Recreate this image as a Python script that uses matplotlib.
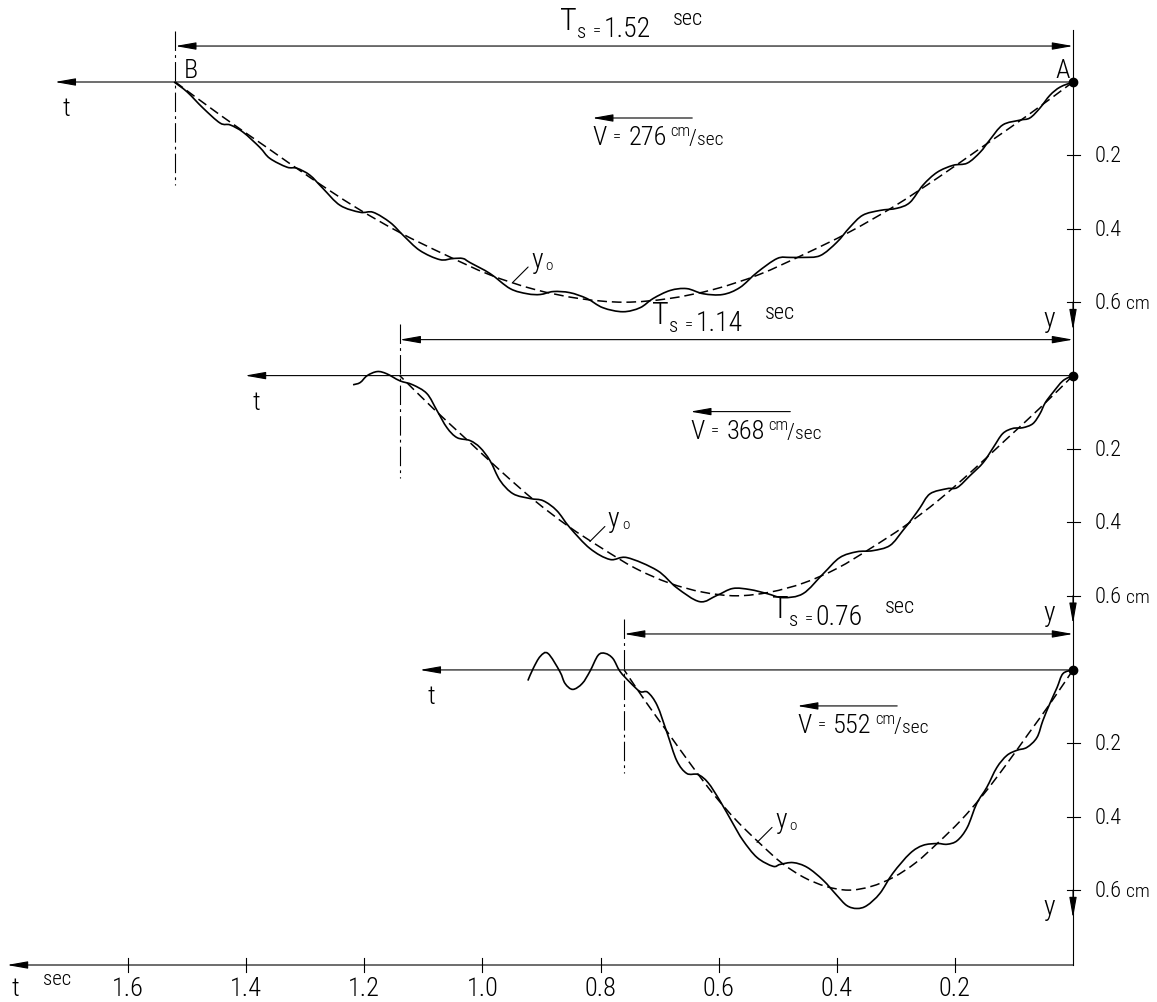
import matplotlib.pyplot as plt
from matplotlib.path import Path
from matplotlib.patches import PathPatch
from matplotlib.transforms import Affine2D

plt.rcParams['font.family'] = ['Roboto Condensed', 'Liberation Sans Narrow',
                               'Liberation Sans', 'DejaVu Sans']
plt.rcParams['font.weight'] = 'light'
plt.rcParams['lines.scale_dashes'] = False

# crossing time of the load (sec) and its speed (cm/sec)
Ts = [1.52, 1.14, 0.76]
speed = [276, 368, 552]

# static deflection y0 (cm) against load position x/L
xi = [0, 0.05, 0.1, 0.15, 0.2, 0.25, 0.3, 0.35, 0.4, 0.45, 0.5,
      0.55, 0.6, 0.65, 0.7, 0.75, 0.8, 0.85, 0.9, 0.95, 1.0]
y0 = [0, 0.09, 0.175, 0.26, 0.34, 0.41, 0.47, 0.525, 0.565, 0.59, 0.60,
      0.59, 0.565, 0.525, 0.47, 0.41, 0.34, 0.26, 0.175, 0.09, 0]

# measured deflection y (cm) against time t (sec)
t1 = [0.0, 0.022, 0.039, 0.056, 0.073, 0.090, 0.119, 0.141, 0.157, 0.179,
      0.203, 0.230, 0.254, 0.276, 0.298, 0.327, 0.356, 0.378, 0.400, 0.428,
      0.457, 0.479, 0.501, 0.535, 0.564, 0.593, 0.626, 0.654, 0.682, 0.711,
      0.733, 0.762, 0.796, 0.823, 0.852, 0.880, 0.902, 0.924, 0.953, 0.987,
      1.021, 1.033, 1.050, 1.072, 1.106, 1.134, 1.156, 1.185, 1.207, 1.241,
      1.270, 1.292, 1.314, 1.331, 1.360, 1.377, 1.405, 1.427, 1.444, 1.473,
      1.500, 1.522]
y1 = [0.0, 0.014, 0.036, 0.071, 0.098, 0.104, 0.117, 0.158, 0.191, 0.221,
      0.227, 0.246, 0.281, 0.328, 0.344, 0.350, 0.363, 0.396, 0.437, 0.473,
      0.478, 0.478, 0.481, 0.519, 0.560, 0.579, 0.577, 0.563, 0.568, 0.590,
      0.615, 0.626, 0.615, 0.590, 0.574, 0.571, 0.579, 0.577, 0.563, 0.522,
      0.492, 0.481, 0.481, 0.484, 0.459, 0.418, 0.383, 0.355, 0.355, 0.336,
      0.290, 0.254, 0.235, 0.232, 0.208, 0.178, 0.137, 0.117, 0.112, 0.071,
      0.027, 0.0]

t2 = [0.0, 0.017, 0.034, 0.047, 0.056, 0.068, 0.085, 0.102, 0.119, 0.135,
      0.152, 0.174, 0.196, 0.213, 0.242, 0.259, 0.271, 0.288, 0.310, 0.339,
      0.366, 0.395, 0.423, 0.457, 0.491, 0.518, 0.547, 0.576, 0.603, 0.632,
      0.671, 0.704, 0.755, 0.784, 0.818, 0.852, 0.874, 0.897, 0.919, 0.948,
      0.970, 0.987, 1.004, 1.021, 1.043, 1.060, 1.077, 1.094, 1.118, 1.140,
      1.162, 1.178, 1.195, 1.207, 1.219]
y2 = [0.0, 0.014, 0.046, 0.074, 0.104, 0.131, 0.142, 0.144, 0.158, 0.196,
      0.237, 0.272, 0.305, 0.308, 0.322, 0.360, 0.387, 0.422, 0.463, 0.477,
      0.480, 0.496, 0.540, 0.594, 0.605, 0.594, 0.583, 0.580, 0.599, 0.616,
      0.578, 0.531, 0.496, 0.501, 0.471, 0.414, 0.368, 0.341, 0.335, 0.322,
      0.286, 0.232, 0.196, 0.177, 0.169, 0.142, 0.095, 0.049, 0.025, 0.014,
      -0.005, -0.011, 0.0, 0.019, 0.025]

t3 = [0.0, 0.017, 0.027, 0.039, 0.051, 0.061, 0.078, 0.095, 0.112, 0.129,
      0.146, 0.163, 0.179, 0.196, 0.213, 0.230, 0.254, 0.276, 0.305, 0.327,
      0.349, 0.366, 0.383, 0.400, 0.423, 0.450, 0.474, 0.496, 0.508, 0.535,
      0.559, 0.576, 0.598, 0.618, 0.635, 0.654, 0.671, 0.687, 0.704, 0.720,
      0.733, 0.750, 0.767, 0.779, 0.792, 0.804, 0.818, 0.831, 0.847, 0.860,
      0.869, 0.889, 0.902, 0.914, 0.923]
y3 = [0.0, 0.010, 0.048, 0.091, 0.138, 0.184, 0.211, 0.219, 0.233, 0.266,
      0.320, 0.364, 0.429, 0.465, 0.475, 0.473, 0.478, 0.500, 0.554, 0.609,
      0.642, 0.650, 0.642, 0.614, 0.573, 0.538, 0.525, 0.530, 0.535, 0.511,
      0.464, 0.418, 0.356, 0.307, 0.285, 0.282, 0.247, 0.173, 0.097, 0.061,
      0.059, 0.034, 0.004, -0.031, -0.045, -0.040, 0.004, 0.037, 0.053, 0.037,
      0.004, -0.045, -0.037, -0.004, 0.029]

runs = [(t1, y1), (t2, y2), (t3, y3)]
y_ticks = [0.2, 0.4, 0.6]
t_ticks = [0.2, 0.4, 0.6, 0.8, 1.0, 1.2, 1.4, 1.6]
t_tick_labels = ['0.2', '0.4', '0.6', '0.8', '1.0', '1.2', '1.4', '1.6']

# layout
W, H = 1157, 1002
PX_T, PX_CM, X0, Y0 = 590.6, 367.0, 1073, 82
offsets = [0.0, 0.80, 1.602]      # vertical shift of each plot (cm units)
t_axis_end = [1.724, 1.402, 1.106]
ts_label_t = [0.869, 0.713, 0.510]
v_label_t = [0.814, 0.648, 0.467]
y0_label = [(0.948, 0.545), (0.818, 0.452), (0.535, 0.470)]
y_bottom = 2.406

fig = plt.figure(figsize=(W / 100, H / 100), dpi=100)
ax = fig.add_axes([0, 0, 1, 1])
ax.axis('off')
ax.set_xlim(X0 / PX_T, (X0 - W) / PX_T)
ax.set_ylim((H - Y0) / PX_CM, -Y0 / PX_CM)
pix = Affine2D().scale(1 / W, -1 / H).translate(0, 1) + fig.transFigure

LW = 0.8


def smooth(xs, ys, **kw):
    # curve through the read points (Catmull-Rom drawn as cubic Beziers)
    pts = list(zip(xs, ys))
    n = len(pts)
    verts, codes = [pts[0]], [Path.MOVETO]
    for i in range(n - 1):
        p0, p1 = pts[max(i - 1, 0)], pts[i]
        p2, p3 = pts[i + 1], pts[min(i + 2, n - 1)]
        c1 = (p1[0] + (p2[0] - p0[0]) / 6, p1[1] + (p2[1] - p0[1]) / 6)
        c2 = (p2[0] - (p3[0] - p1[0]) / 6, p2[1] - (p3[1] - p1[1]) / 6)
        verts += [c1, c2, p2]
        codes += [Path.CURVE4] * 3
    ax.add_patch(PathPatch(Path(verts, codes), fill=False, **kw))


def arrow(x0, y0_, x1, y1_, style='-|>'):
    ax.annotate('', xy=(x1, y1_), xytext=(x0, y0_),
                arrowprops=dict(arrowstyle=style + ',head_length=0.9,head_width=0.16',
                                mutation_scale=14, lw=LW, color='k',
                                shrinkA=0, shrinkB=0))


def piece(x, y, s, size, dx, dy):
    ax.annotate(s, xy=(x, y), xytext=(dx, dy), textcoords='offset pixels',
                fontsize=size, ha='left', va='baseline')


# right-hand y axis through all three plots
ax.plot([0, 0], [-0.142, y_bottom], color='k', lw=LW)

for k in range(3):
    off = offsets[k]
    t, y = runs[k]

    # time axis of the plot
    arrow(0, off, t_axis_end[k], off)
    piece(t_axis_end[k], off, 't', 19, 8, -34)

    # static and dynamic deflection
    smooth([x * Ts[k] for x in xi], [off + v for v in y0], color='k',
           lw=1.1, linestyle=(0, (7, 3.5)))
    smooth(t, [off + v for v in y], color='k', lw=1.2)
    ax.plot(0, off, 'o', color='k', ms=6)

    # y ticks
    for v in y_ticks:
        ax.plot([0.010, -0.012], [off + v] * 2, color='k', lw=LW)
        piece(0, off + v, f'{v:.1f}', 16, 22, -7)
    piece(0, off + 0.6, 'cm', 14, 53, -7)
    arrow(0, off + 0.6, 0, off + 0.676)
    piece(0, off + 0.676, 'y', 20, -30, 3)

    # crossing time
    arrow(Ts[k], off - 0.098, 0, off - 0.098, style='<|-|>')
    ax.plot([Ts[k], Ts[k]], [off - 0.14, off + 0.28], color='k', lw=LW,
            linestyle=(0, (14, 3, 2, 3)))
    c = ts_label_t[k]
    yd = off - 0.098
    piece(c, yd, 'T', 23, 0, 16)
    piece(c, yd, 's', 15, 17, 8)
    piece(c, yd, '=', 12, 33, 11)
    piece(c, yd, f'{Ts[k]:.2f}', 20, 44, 9)
    piece(c, yd, 'sec', 16, 113, 21)

    # speed of the load
    lt = v_label_t[k]
    arrow(lt - 100 / PX_T, off + 36 / PX_CM, lt, off + 36 / PX_CM)
    yv = off + 63 / PX_CM
    piece(lt, yv, 'V', 19, 0, 0)
    piece(lt, yv, '=', 12, 21, 4)
    piece(lt, yv, str(speed[k]), 19, 36, 0)
    piece(lt, yv, 'cm', 12, 78, 9)
    piece(lt, yv, '/', 16, 96, 0)
    piece(lt, yv, 'sec', 14, 105, 0)

    # y0 label with leader
    lt0, lv0 = y0_label[k]
    ax.annotate('', xy=(lt0, off + lv0), xytext=(15, 15),
                textcoords='offset pixels',
                arrowprops=dict(arrowstyle='-', lw=LW, color='k',
                                shrinkA=0, shrinkB=0))
    piece(lt0, off + lv0, 'y', 20, 18, 14)
    piece(lt0, off + lv0, 'o', 11, 32, 12)

piece(Ts[0], 0, 'B', 19, 8, 4)
piece(0, 0, 'A', 19, -18, 4)

# time axis at the bottom
arrow(0, y_bottom, 1.805, y_bottom)
for v, s in zip(t_ticks, t_tick_labels):
    ax.plot([v, v], [y_bottom - 0.019, y_bottom + 0.019], color='k', lw=LW)
    ax.text(v, y_bottom + 0.085, s, fontsize=19, ha='center', va='baseline')
ax.text(12, 996, 't', fontsize=19, transform=pix, ha='left', va='baseline')
ax.text(43, 985, 'sec', fontsize=15, transform=pix, ha='left', va='baseline')

fig.savefig('out.png', dpi=100)
